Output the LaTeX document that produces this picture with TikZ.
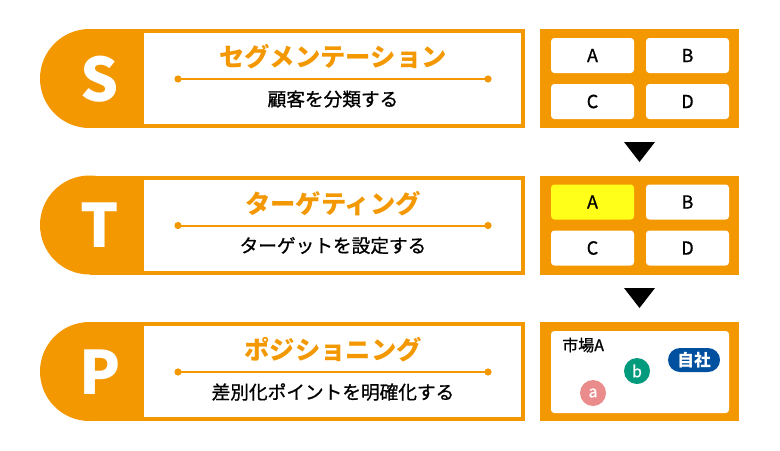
\documentclass[tikz,border=0pt]{standalone}
\usepackage{fontspec}
\setmainfont{Noto Sans CJK JP}
\newfontfamily\medfont{Noto Sans CJK JP}[FakeBold=0.9]
\definecolor{orng}{HTML}{F39800}
\definecolor{yel}{HTML}{FFFF1A}
\definecolor{navy}{HTML}{0050A0}
\definecolor{grn}{HTML}{009B7D}
\definecolor{pnk}{HTML}{EB8C8C}
\tikzset{
  bigletter/.style={text=white,inner sep=0pt,font=\bfseries\fontsize{45}{47}\selectfont},
  titletext/.style={text=orng,inner sep=0pt,font=\bfseries\fontsize{19}{21}\selectfont},
  subtext/.style={text=black,inner sep=0pt,font=\medfont\fontsize{14}{16}\selectfont},
  cell/.style={fill=white,rounded corners=2.5pt,minimum width=62.25pt,minimum height=26.25pt,inner sep=0pt,font=\medfont\fontsize{13.5}{15}\selectfont},
  dotline/.style={draw=orng,line width=1.5pt},
  arrowtri/.style={fill=black},
  dotmark/.style={circle,minimum size=19.5pt,inner sep=0pt,text=white,font=\medfont\fontsize{12}{13}\selectfont}
}
\newcommand\stprow[5]{%
  \fill[orng] (89.5,#1+49.5) circle[radius=49.5];
  \fill[orng] (89.5,#1) rectangle (525,#1+99);
  \fill[white] (144,#1+4) rectangle (521,#1+95);
  \node[bigletter] (#2-letter) at (100,#1+50) {#3};
  \node[titletext] (#2-title) at (333,#1+28) {#4};
  \coordinate (#2-l) at (178,#1+50);
  \coordinate (#2-r) at (488,#1+50);
  \draw[dotline] (#2-l) -- (#2-r);
  \fill[orng] (#2-l) circle[radius=3.6] (#2-r) circle[radius=3.6];
  \node[subtext] (#2-sub) at (333,#1+70) {#5};
  \fill[orng] (540,#1) rectangle (739,#1+99);
}
\begin{document}
\begin{tikzpicture}[x=0.75pt,y=-0.75pt]
\useasboundingbox (0,0) rectangle (780,450);
\fill[white] (0,0) rectangle (780,450);
\stprow{29}{s}{S}{セグメンテーション}{顧客を分類する}
\stprow{175.5}{t}{T}{ターゲティング}{ターゲットを設定する}
\stprow{322}{p}{P}{ポジショニング}{差別化ポイントを明確化する}
% row 1 cells
\node[cell] (s-A) at (592.5,55.5) {A};
\node[cell] (s-B) at (687.5,55.5) {B};
\node[cell] (s-C) at (592.5,101.5) {C};
\node[cell] (s-D) at (687.5,101.5) {D};
% row 2 cells
\node[cell,fill=yel] (t-A) at (592.5,202) {A};
\node[cell] (t-B) at (687.5,202) {B};
\node[cell] (t-C) at (592.5,248) {C};
\node[cell] (t-D) at (687.5,248) {D};
% row 3 market
\fill[white,rounded corners=2.5pt] (551,331) rectangle (729,413);
\node[anchor=west,inner sep=0pt,font=\medfont\fontsize{12}{13}\selectfont] (mkt) at (562,345) {市場A};
\node[fill=navy,rounded corners=9pt,minimum width=39pt,minimum height=18pt,inner sep=0pt,text=white,font=\bfseries\fontsize{12.5}{13}\selectfont] (own) at (694,360) {自社};
\node[dotmark,fill=grn] (b) at (637,371) {b};
\node[dotmark,fill=pnk] (a) at (593,393) {a};
% arrows
\fill[arrowtri] (624,142) -- (655,142) -- (639.5,162) -- cycle;
\fill[arrowtri] (624,288) -- (655,288) -- (639.5,308) -- cycle;
\end{tikzpicture}
\end{document}
